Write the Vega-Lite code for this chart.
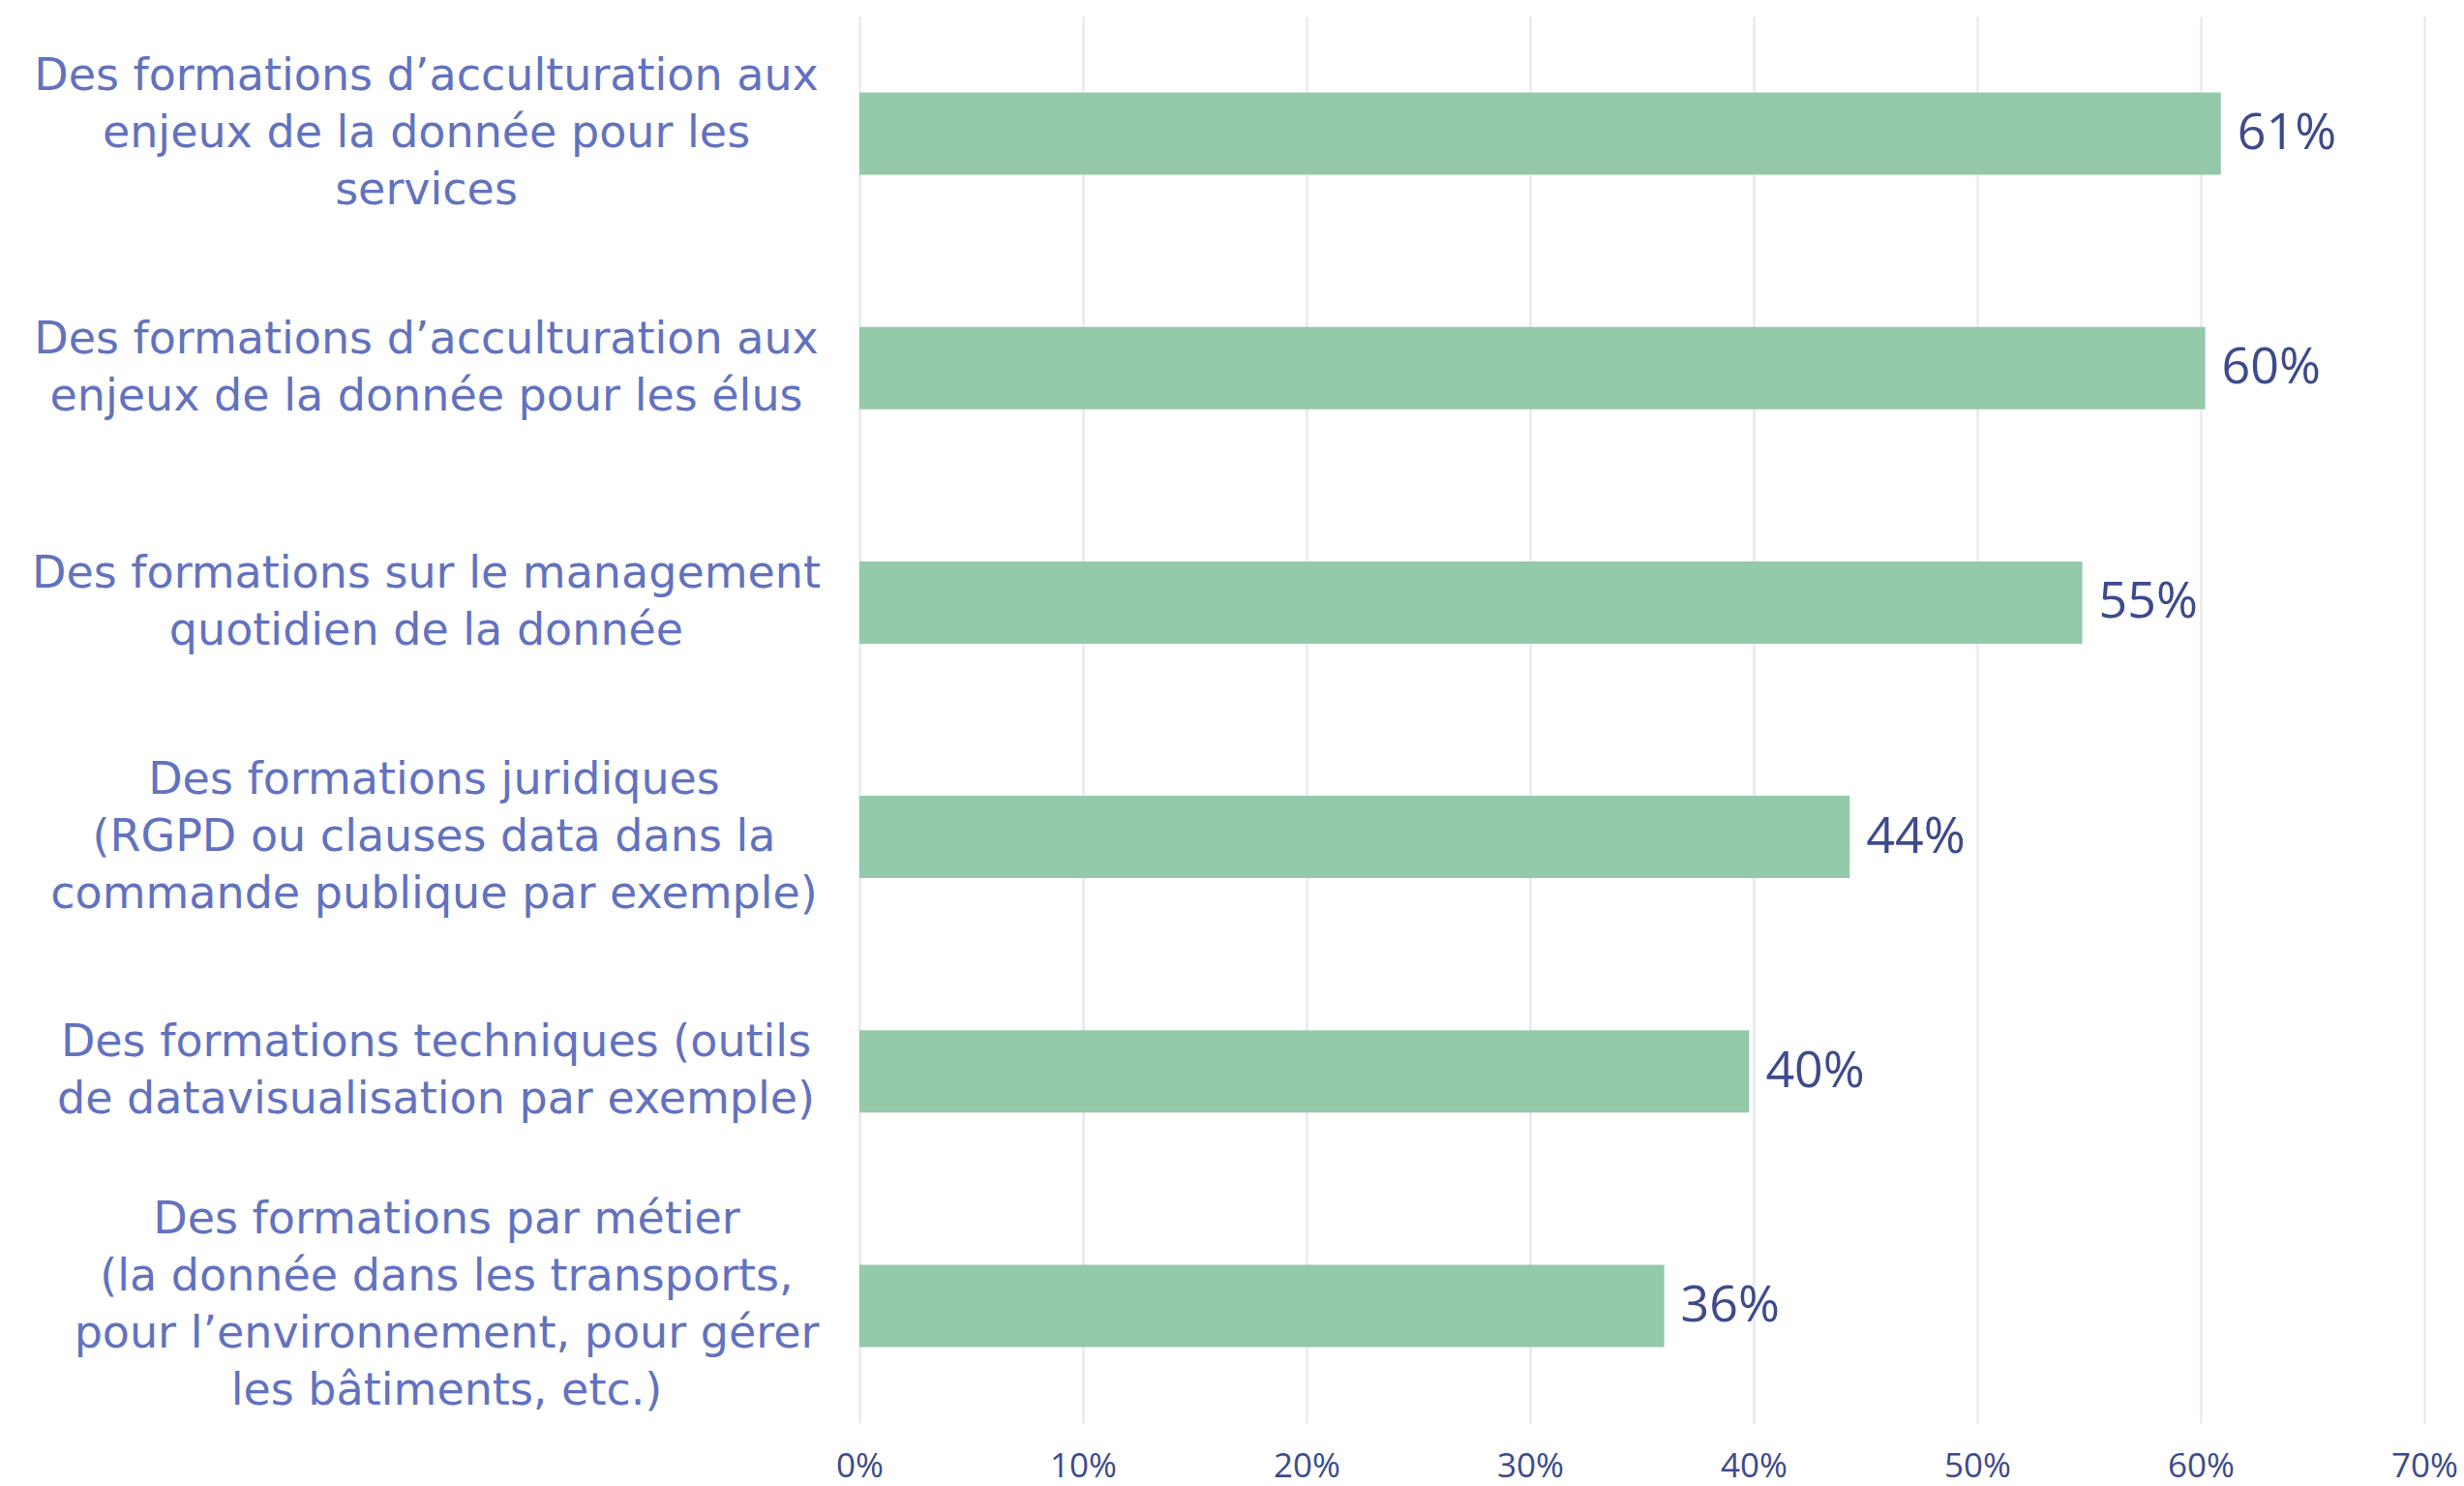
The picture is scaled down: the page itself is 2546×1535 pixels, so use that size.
{
  "$schema": "https://vega.github.io/schema/vega-lite/v6.json",
  "width": 1617,
  "height": 1453,
  "autosize": "none",
  "padding": {"left": 888, "top": 17, "right": 41, "bottom": 65},
  "background": "white",
  "config": {"view": {"stroke": null}, "font": "Open Sans"},
  "data": {
    "values": [
      {"formation": "Des formations d’acculturation aux\nenjeux de la donnée pour les\nservices", "part": 0.609},
      {"formation": "Des formations d’acculturation aux\nenjeux de la donnée pour les élus", "part": 0.602},
      {"formation": "Des formations sur le management\nquotidien de la donnée", "part": 0.547},
      {"formation": "Des formations juridiques\n(RGPD ou clauses data dans la\ncommande publique par exemple)", "part": 0.443},
      {"formation": "Des formations techniques (outils\nde datavisualisation par exemple)", "part": 0.398},
      {"formation": "Des formations par métier\n(la donnée dans les transports,\npour l’environnement, pour gérer\nles bâtiments, etc.)", "part": 0.36}
    ]
  },
  "encoding": {
    "y": {
      "field": "formation",
      "type": "nominal",
      "sort": "-x",
      "scale": {"paddingInner": 0.649, "paddingOuter": 0.3245},
      "axis": {
        "title": null,
        "domain": false,
        "ticks": false,
        "grid": false,
        "labelAlign": "center",
        "labelBaseline": "middle",
        "labelPadding": {
          "condition": [
            {"test": "indexof(datum.value, 'métier') >= 0", "value": 427},
            {"test": "indexof(datum.value, 'juridiques') >= 0", "value": 440},
            {"test": "indexof(datum.value, 'techniques') >= 0", "value": 438}
          ],
          "value": 448
        },
        "labelLimit": 0,
        "labelFont": "DejaVu Sans",
        "labelFontSize": 46,
        "labelColor": "#6272BF",
        "labelLineHeight": 59,
        "labelOffset": {
          "condition": [
            {"test": "length(split(datum.value, '\\n')) == 4", "value": -88.5},
            {"test": "length(split(datum.value, '\\n')) == 3", "value": -59}
          ],
          "value": -29.5
        },
        "labelExpr": "split(datum.label, '\\n')"
      }
    },
    "x": {
      "field": "part",
      "type": "quantitative",
      "scale": {"domain": [0, 0.7], "nice": false},
      "axis": {
        "title": null,
        "format": ".0%",
        "values": [0, 0.1, 0.2, 0.3, 0.4, 0.5, 0.6, 0.7],
        "grid": true,
        "gridColor": "#E1E4F2",
        "gridWidth": 2,
        "domain": false,
        "ticks": false,
        "labelFlush": false,
        "labelFont": "Open Sans",
        "labelFontSize": 35,
        "labelColor": "#3D4A8C",
        "labelBaseline": "middle",
        "labelPadding": 44
      }
    }
  },
  "layer": [
    {"mark": {"type": "bar", "color": "#94C9A9"}},
    {
      "mark": {"type": "text", "align": "left", "baseline": "middle", "dx": 17, "font": "Open Sans", "fontSize": 52, "color": "#3D4A8C"},
      "encoding": {"text": {"field": "part", "type": "quantitative", "format": ".0%"}}
    }
  ]
}
